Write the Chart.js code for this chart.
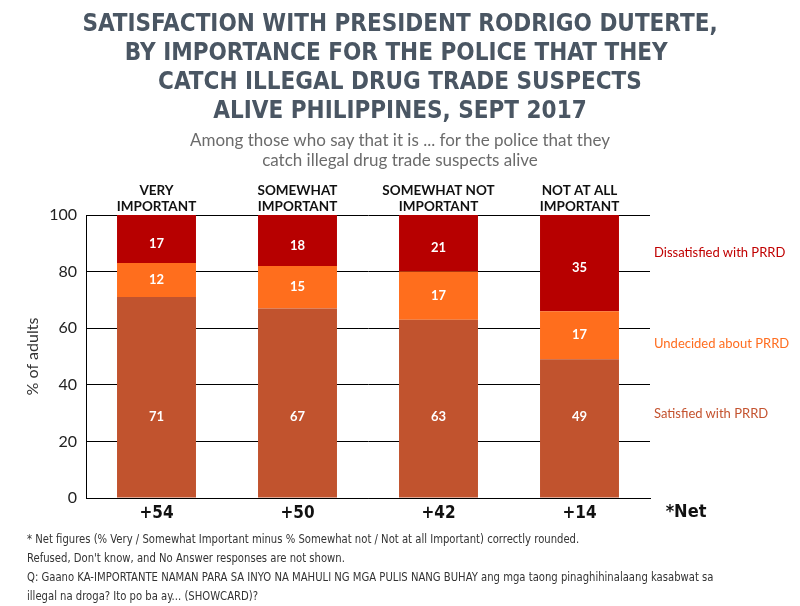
<!DOCTYPE html>
<html>
<head>
<meta charset="utf-8">
<script src="https://cdn.jsdelivr.net/npm/chart.js@4"></script>
<style>
  body { margin: 0; background: #fff; }
  #wrap { position: relative; width: 800px; height: 606px; overflow: hidden; }
  #chart { position: absolute; left: 0; top: 0; }
  .title {
    position: absolute; left: 0; top: 9px; width: 800px; text-align: center;
    font-family: "DejaVu Sans Condensed", "Liberation Sans Narrow", sans-serif;
    font-weight: bold; font-size: 24px; line-height: 29px; color: #4a5663;
  }
  .subtitle {
    position: absolute; left: 0; top: 130px; width: 800px; text-align: center;
    font-family: Lato, sans-serif; font-size: 17px; line-height: 20px; color: #6b6b6b;
  }
  .side { position: absolute; left: 654px; font-family: Lato, sans-serif; font-size: 13px; }
  .notes {
    position: absolute; left: 27px; top: 529px; width: 900px;
    font-family: "DejaVu Sans Condensed", "Liberation Sans Narrow", sans-serif;
    font-size: 13px; line-height: 19px; color: #333;
    transform: scaleX(0.86); transform-origin: left top; white-space: nowrap;
  }
</style>
</head>
<body>
<div id="wrap">
  <canvas id="chart" width="800" height="606"></canvas>
  <div class="title">SATISFACTION WITH PRESIDENT RODRIGO DUTERTE,<br>BY IMPORTANCE FOR THE POLICE THAT THEY&nbsp;<br>CATCH ILLEGAL DRUG TRADE SUSPECTS<br>ALIVE PHILIPPINES, SEPT 2017</div>
  <div class="subtitle">Among those who say that it is ... for the police that they<br>catch illegal drug trade suspects alive</div>
  <div class="side" style="top:244px;color:#c00000">Dissatisfied with PRRD</div>
  <div class="side" style="top:335px;color:#ff6d1f">Undecided about PRRD</div>
  <div class="side" style="top:405px;color:#c4532f">Satisfied with PRRD</div>
  <div class="notes">* Net figures (% Very / Somewhat Important minus % Somewhat not / Not at all Important) correctly rounded.<br>Refused, Don't know, and No Answer responses are not shown.<br>Q: Gaano KA-IMPORTANTE NAMAN PARA SA INYO NA MAHULI NG MGA PULIS NANG BUHAY ang mga taong pinaghihinalaang kasabwat sa<br>illegal na droga? Ito po ba ay... (SHOWCARD)?</div>
</div>
<script>
// Data
const categories = ["Very important", "Somewhat important", "Somewhat not important", "Not at all important"];
const categoryLines = [["VERY", "IMPORTANT"], ["SOMEWHAT", "IMPORTANT"], ["SOMEWHAT NOT", "IMPORTANT"], ["NOT AT ALL", "IMPORTANT"]];
const satisfied = [71, 67, 63, 49];
const undecided = [12, 15, 17, 17];
const dissatisfied = [17, 18, 21, 35];
const netLabels = ["+54", "+50", "+42", "+14"];
const yTicks = [0, 20, 40, 60, 80, 100];

// white numbers inside the bars
const barLabels = {
    id: "barLabels",
    afterDatasetsDraw(chart) {
        const ctx = chart.ctx;
        const y = chart.scales.y;
        ctx.save();
        ctx.fillStyle = "#fff";
        ctx.font = "bold 13px Lato, sans-serif";
        ctx.textAlign = "center";
        ctx.textBaseline = "middle";
        chart.data.datasets.forEach((ds, di) => {
            chart.getDatasetMeta(di).data.forEach((bar, i) => {
                let top = Math.max(bar.y, chart.chartArea.top);
                let cy = (top + bar.base) / 2;
                if (di === 0) cy = y.getPixelForValue(28.7);
                if (di === 2) cy = Math.min(cy + 5, bar.base - 10);
                ctx.fillText(ds.data[i], bar.x, cy);
            });
        });
        // *Net label to the right of the net figures
        ctx.fillStyle = "#111";
        ctx.font = "bold 18px 'DejaVu Sans Condensed', sans-serif";
        ctx.fillText("*Net", 686, 512);
        ctx.restore();
    }
};

const ctx = document.getElementById("chart").getContext("2d");
new Chart(ctx, {
    type: "bar",
    data: {
        labels: categories,
        datasets: [
            { label: "Satisfied with PRRD", data: satisfied, backgroundColor: "#c1532e" },
            { label: "Undecided about PRRD", data: undecided, backgroundColor: "#ff6e1d" },
            { label: "Dissatisfied with PRRD", data: dissatisfied, backgroundColor: "#b70000" }
        ]
    },
    options: {
        responsive: false,
        animation: false,
        layout: { padding: { top: 0, left: 0, right: 150, bottom: 0 } },
        datasets: { bar: { categoryPercentage: 1, barPercentage: 0.56 } },
        plugins: {
            legend: { display: false },
            tooltip: { enabled: false }
        },
        scales: {
            x: {
                stacked: true,
                grid: { display: false },
                border: { display: true, color: "#000" },
                ticks: {
                    color: "#111",
                    padding: -3,
                    font: { family: "'DejaVu Sans Condensed', sans-serif", size: 17, weight: "bold" },
                    callback: (v, i) => netLabels[i]
                },
                afterFit: s => { s.height = 108; }
            },
            x2: {
                type: "category",
                position: "top",
                offset: true,
                grid: { display: false },
                border: { display: false },
                ticks: {
                    color: "#111",
                    padding: -8,
                    font: { family: "Lato, sans-serif", size: 13.5, weight: "bold", lineHeight: 1.2 },
                    callback: (v, i) => categoryLines[i]
                },
                afterFit: s => { s.height = 215; }
            },
            y: {
                stacked: true,
                min: 0,
                max: 100,
                afterBuildTicks: s => { s.ticks = yTicks.map(v => ({ value: v })); },
                grid: { color: "#000", lineWidth: 1, drawTicks: false },
                border: { display: true, color: "#000" },
                ticks: {
                    color: "#222",
                    padding: 9,
                    font: { family: "Lato, sans-serif", size: 16 }
                },
                title: {
                    display: true,
                    text: "% of adults",
                    color: "#333",
                    padding: { top: 23, bottom: 0 },
                    font: { family: "Lato, sans-serif", size: 16 }
                },
                afterFit: s => { s.width = 86; }
            }
        }
    },
    plugins: [barLabels]
});
</script>
</body>
</html>
